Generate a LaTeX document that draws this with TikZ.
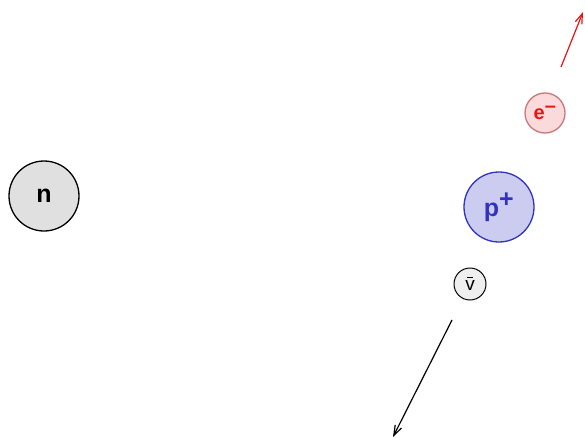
\documentclass[tikz,border=0pt]{standalone}
\usepackage{fontspec}
\setmainfont{Liberation Sans}
\usetikzlibrary{arrows.meta}
\definecolor{grayfill}{RGB}{224, 224, 224}
\definecolor{bluefill}{RGB}{204, 204, 240}
\definecolor{blueline}{RGB}{50, 50, 190}
\definecolor{pinkfill}{RGB}{250, 218, 218}
\definecolor{pinkline}{RGB}{200, 120, 120}
\definecolor{red}{RGB}{235, 20, 20}

\begin{document}
\begin{tikzpicture}[x=1pt, y=-1pt,
    particle/.style={circle, draw, line width=1.3pt, inner sep=0pt}]
      \useasboundingbox (0, 0) rectangle (585, 441);
      \node[particle, fill=grayfill, minimum size=70pt, font=\bfseries\fontsize{25}{25}\selectfont] (n) at (44, 196) {n};
      \node[particle, fill=bluefill, draw=blueline, text=blueline, minimum size=70pt, font=\bfseries\fontsize{25}{25}\selectfont] (p) at (499, 207) {p$^{\textbf{+}}$};
      \node[particle, fill=pinkfill, draw=pinkline, text=red, minimum size=40pt, font=\bfseries\fontsize{20}{20}\selectfont] (e) at (545, 113) {e$^{\textbf{--}}$};
      \node[particle, fill=grayfill!50, minimum size=32pt, line width=1pt, font=\fontsize{19}{19}\selectfont] (nu) at (470, 284) {\shortstack{\rule{6pt}{1pt}\\[-1pt]v}};
      % free ends of the tracks
      \coordinate (etail) at (561, 67);
      \coordinate (ehead) at (583, 12);
      \coordinate (nutail) at (452, 320);
      \coordinate (nuhead) at (393, 437);
      \draw[red, line width=1.2pt, -{Straight Barb[length=10pt, width=7pt]}] (etail) -- (ehead);
      \draw[line width=1.2pt, -{Straight Barb[length=10pt, width=7pt]}] (nutail) -- (nuhead);
    \end{tikzpicture}
\end{document}
